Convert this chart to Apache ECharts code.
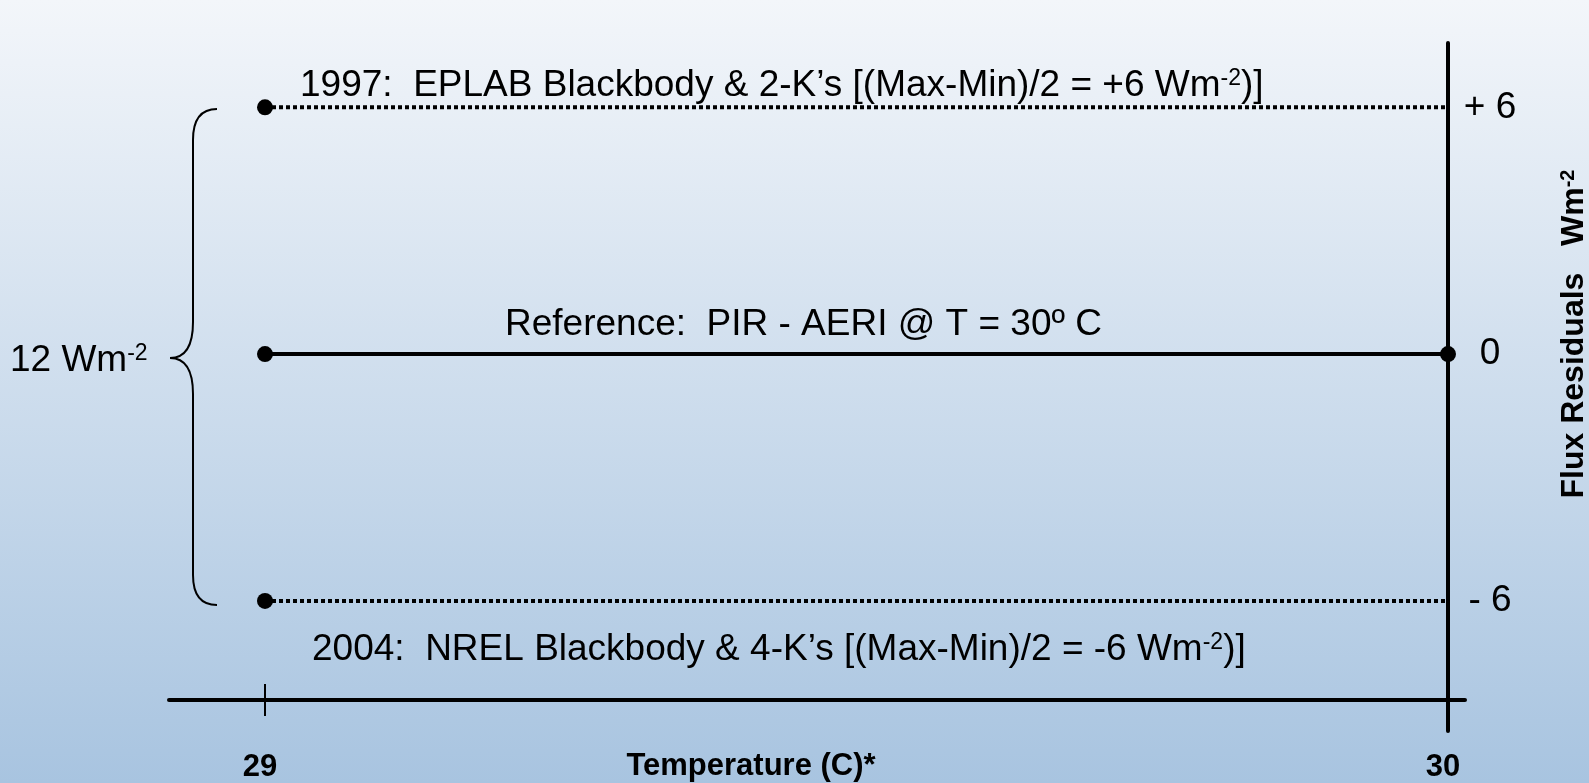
<!DOCTYPE html>
<html>
<head>
<meta charset="utf-8">
<script src="https://cdn.jsdelivr.net/npm/echarts@6/dist/echarts.min.js"></script>
<style>
html,body{margin:0;padding:0;}
#chart{width:1589px;height:783px;}
</style>
</head>
<body>
<div id="chart"></div>
<script>
// ---- data ----
var temps = [29, 30];
var refValues = [0, 0];
var upper1997 = [6, 6];
var lower2004 = [-6, -6];
var yTickValues = [6, 0, -6];
var yTickLabels = ['+ 6', '0', '- 6'];
var xTickValues = [29, 30];
var xTickLabels = ['29', '30'];

function pairs(xs, ys){ return xs.map(function(x,i){ return [x, ys[i]]; }); }
function firstDotOnly(xs, ys){
  return xs.map(function(x,i){
    return i === 0 ? {value:[x, ys[i]]} : {value:[x, ys[i]], symbol:'none'};
  });
}

var FONT = 'Liberation Sans, Arial, sans-serif';
var chart = echarts.init(document.getElementById('chart'));

var xMin = 29 - 96/1183, xMax = 30 + 17/1183;
var yMax = (355-43)/41.25, yMin = -(733-355)/41.25;

var xAxisBase = {
  type:'value', min:xMin, max:xMax, position:'bottom', offset:-31,
  splitLine:{show:false}
};
var supStyle = {fontSize:23,fontFamily:FONT,verticalAlign:'top',lineHeight:22,padding:[0,0,14,0]};

chart.setOption({
  backgroundColor:{type:'linear',x:0,y:0,x2:0,y2:1,colorStops:[
    {offset:0,color:'#f3f6fa'},{offset:1,color:'#a8c4e0'}]},
  animation:false,
  grid:{left:169,right:124,top:43,bottom:50,containLabel:false},
  xAxis:[
    Object.assign({}, xAxisBase, {
      axisLine:{show:true,onZero:false,lineStyle:{color:'#000',width:4}},
      axisTick:{show:true,inside:false,length:16,customValues:[29],lineStyle:{color:'#000',width:2}},
      axisLabel:{show:true,customValues:xTickValues,margin:52,padding:[0,10,0,0],
        formatter:function(v){ var i=xTickValues.indexOf(Math.round(v)); return i>=0?xTickLabels[i]:''; },
        color:'#000',fontFamily:FONT,fontWeight:'bold',fontSize:31}
    }),
    Object.assign({}, xAxisBase, {
      axisLine:{show:false,onZero:false},
      axisTick:{show:true,inside:true,length:16,customValues:[29],lineStyle:{color:'#000',width:2}},
      axisLabel:{show:false}
    })
  ],
  yAxis:{
    type:'value', position:'right', offset:-17, min:yMin, max:yMax,
    splitLine:{show:false},
    axisLine:{show:true,onZero:false,lineStyle:{color:'#000',width:4}},
    axisTick:{show:false},
    axisLabel:{show:true,customValues:yTickValues,margin:42,align:'center',
      padding:[0,0,14,0],
      formatter:function(v){ var i=yTickValues.indexOf(Math.round(v)); return i>=0?yTickLabels[i]:''; },
      color:'#000',fontFamily:FONT,fontSize:37}
  },
  series:[
    {type:'line',name:'1997',data:firstDotOnly(temps, upper1997),symbol:'circle',symbolSize:16,
      itemStyle:{color:'#000'},lineStyle:{color:'#000',width:4,type:[4,3]}},
    {type:'line',name:'Reference',data:pairs(temps, refValues),symbol:'circle',symbolSize:16,
      itemStyle:{color:'#000'},lineStyle:{color:'#000',width:4}},
    {type:'line',name:'2004',data:firstDotOnly(temps, lower2004),symbol:'circle',symbolSize:16,
      itemStyle:{color:'#000'},lineStyle:{color:'#000',width:4,type:[4,3]}}
  ],
  graphic:[
    {type:'text',x:300,y:86,style:{text:'1997:  EPLAB Blackbody & 2-K\u2019s [(Max-Min)/2 = +6 Wm{sup|-2})]',
      fontFamily:FONT,fontSize:37,fill:'#000',textVerticalAlign:'middle',verticalAlign:'middle',
      rich:{sup:supStyle}}},
    {type:'text',x:505,y:325,style:{text:'Reference:  PIR - AERI @ T = 30\u00ba C',
      fontFamily:FONT,fontSize:37,fill:'#000',textVerticalAlign:'middle',verticalAlign:'middle'}},
    {type:'text',x:312,y:650,style:{text:'2004:  NREL Blackbody & 4-K\u2019s [(Max-Min)/2 = -6 Wm{sup|-2})]',
      fontFamily:FONT,fontSize:37,fill:'#000',textVerticalAlign:'middle',verticalAlign:'middle',
      rich:{sup:supStyle}}},
    {type:'text',x:10,y:361,style:{text:'12 Wm{sup|-2}',
      fontFamily:FONT,fontSize:37,fill:'#000',textVerticalAlign:'middle',verticalAlign:'middle',
      rich:{sup:supStyle}}},
    {type:'text',x:751,y:766,style:{text:'Temperature (C)*',
      fontFamily:FONT,fontSize:31,fontWeight:'bold',fill:'#000',textAlign:'center',align:'center',
      textVerticalAlign:'middle',verticalAlign:'middle'}},
    {type:'text',x:1574,y:334,rotation:Math.PI/2,style:{text:'Flux Residuals   Wm{sup|-2}',
      fontFamily:FONT,fontSize:32,fontWeight:'bold',fill:'#000',textAlign:'center',align:'center',
      textVerticalAlign:'middle',verticalAlign:'middle',
      rich:{sup:{fontSize:20,fontWeight:'bold',fontFamily:FONT,verticalAlign:'top',lineHeight:20,padding:[0,0,12,0]}}}},
    // brace
    {type:'bezierCurve',shape:{x1:217,y1:109,x2:193,y2:140,cpx1:193,cpy1:109},style:{stroke:'#000',lineWidth:2,fill:null}},
    {type:'line',shape:{x1:193,y1:140,x2:193,y2:322},style:{stroke:'#000',lineWidth:2}},
    {type:'bezierCurve',shape:{x1:193,y1:322,x2:170,y2:358,cpx1:193,cpy1:358},style:{stroke:'#000',lineWidth:2,fill:null}},
    {type:'bezierCurve',shape:{x1:170,y1:358,x2:193,y2:394,cpx1:193,cpy1:358},style:{stroke:'#000',lineWidth:2,fill:null}},
    {type:'line',shape:{x1:193,y1:394,x2:193,y2:575},style:{stroke:'#000',lineWidth:2}},
    {type:'bezierCurve',shape:{x1:193,y1:575,x2:217,y2:605,cpx1:193,cpy1:605},style:{stroke:'#000',lineWidth:2,fill:null}}
  ]
});
</script>
</body>
</html>
